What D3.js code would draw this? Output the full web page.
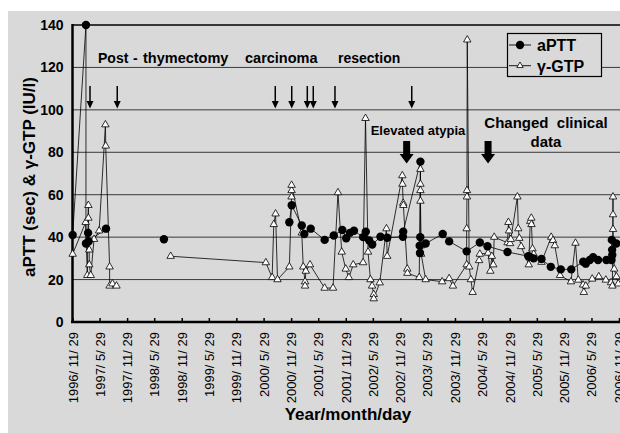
<!DOCTYPE html>
<html><head><meta charset="utf-8">
<script src="https://cdn.jsdelivr.net/npm/d3@7"></script>
<style>body{margin:0;background:#fff} svg{display:block;font-family:Arial,"Liberation Sans",sans-serif}</style>
</head><body><svg id="c" width="620" height="433"></svg>
<script>
// ---------- data ----------
const tickDates = ["1996-11-29","1997-05-29","1997-11-29","1998-05-29","1998-11-29","1999-05-29","1999-11-29","2000-05-29","2000-11-29","2001-05-29","2001-11-29","2002-05-29","2002-11-29","2003-05-29","2003-11-29","2004-05-29","2004-11-29","2005-05-29","2005-11-29","2006-05-29","2006-11-29"];
const tickLabels = ["1996/ 11/ 29","1997/ 5/ 29","1997/ 11/ 29","1998/ 5/ 29","1998/ 11/ 29","1999/ 5/ 29","1999/ 11/ 29","2000/ 5/ 29","2000/ 11/ 29","2001/ 5/ 29","2001/ 11/ 29","2002/ 5/ 29","2002/ 11/ 29","2003/ 5/ 29","2003/ 11/ 29","2004/ 5/ 29","2004/ 11/ 29","2005/ 5/ 29","2005/ 11/ 29","2006/ 5/ 29","2006/ 11/ 29"];
const yTicks = [0,20,40,60,80,100,120,140];

// null = blank cell (line is broken there)
const apttDates = ["1996-11-30","1997-02-27","1997-02-27","1997-03-13","1997-03-17","1997-07-11","1998-01-01","1998-08-02","1999-06-01","2000-11-17","2000-12-03","2001-02-08","2001-02-25","2001-04-09","2001-07-11","2001-09-10","2001-11-06","2001-12-02","2001-12-27","2002-01-23","2002-03-25","2002-04-12","2002-05-04","2002-05-25","2002-07-19","2002-09-02","2002-12-16","2002-12-18","2003-04-12","2003-04-11","2003-04-07","2003-04-09","2003-05-17","2003-09-08","2003-10-21","2004-02-15","2004-05-13","2004-07-03","2004-11-14","2005-04-02","2005-04-12","2005-05-08","2005-06-29","2005-08-30","2005-11-05","2006-01-14","2006-04-04","2006-04-21","2006-05-18","2006-06-09","2006-07-12","2006-09-06","2006-10-10","2006-10-12","2006-10-14","2006-10-15","2006-11-11"];
const apttValues = [41,140,37,42,38,44,null,39,null,47,55,45.5,41.5,44,38.7,40.8,43.4,39.5,42,43,40,42.6,38.5,36.5,40.2,39.7,40.2,42.6,75.6,40,36,32.5,37,41.5,38,33.3,37.5,35.7,33,31,30.8,30,29.7,26,24.8,24.8,28.4,27.5,29.2,30.5,29.2,29.2,29.2,38.7,34,31.6,37];

const ggtpDates = ["1996-11-30","1997-02-25","1997-03-08","1997-03-15","1997-03-15","1997-03-21","1997-03-21","1997-03-31","1997-04-22","1997-05-26","1997-07-07","1997-07-09","1997-08-04","1997-08-04","1997-08-23","1997-09-19","1998-03-01","1998-09-16","2000-06-13","2000-07-25","2000-08-05","2000-08-17","2000-08-30","2000-11-17","2000-12-02","2000-12-02","2000-12-02","2001-02-08","2001-02-18","2001-03-02","2001-03-02","2001-03-07","2001-04-04","2001-07-11","2001-09-05","2001-10-08","2001-11-02","2001-11-29","2001-12-20","2002-01-18","2002-03-25","2002-04-10","2002-04-27","2002-05-13","2002-05-24","2002-06-04","2002-06-04","2002-07-14","2002-08-28","2002-09-02","2002-12-12","2002-12-13","2002-12-18","2002-12-19","2003-01-14","2003-01-15","2003-04-04","2003-04-12","2003-04-12","2003-04-12","2003-04-12","2003-04-17","2003-04-17","2003-05-17","2003-09-04","2003-10-21","2003-11-15","2004-02-15","2004-02-15","2004-02-17","2004-02-17","2004-02-19","2004-03-03","2004-03-14","2004-03-26","2004-05-08","2004-05-13","2004-07-07","2004-07-22","2004-08-01","2004-08-11","2004-08-17","2004-11-14","2004-11-20","2004-11-24","2004-12-01","2004-12-06","2005-01-19","2005-01-25","2005-02-01","2005-02-13","2005-04-05","2005-04-15","2005-04-22","2005-04-23","2005-04-30","2005-05-08","2005-06-29","2005-09-02","2005-09-14","2005-09-26","2005-10-31","2006-01-12","2006-02-11","2006-03-02","2006-04-03","2006-04-08","2006-04-21","2006-06-03","2006-07-17","2006-09-02","2006-10-07","2006-10-16","2006-10-20","2006-10-20","2006-10-20","2006-10-28","2006-11-12","2006-11-24"];
const ggtpValues = [32,47,22,55,49,34,27,22,39,43,93,83,26,17,18,17,null,31,28,21,46,51,20,26,59,62,64.5,42,26,19,17,24,27,16,16,61,33,25,21,27,28,96,33,20,17,13,11,18.5,44,31,69,65,56,55,25,23,21,72,65,62,57,36,32,20,19,20.5,17,27,44,59,62,133,26,20,14,29,32,32.5,24,31,27,40,37.4,47,43,37,39,59,44,39.5,35.6,27,47.5,49,46,34.5,32,28.2,40,38.5,36,22,19,37.2,19.8,17.5,14,17,20.3,21.4,19.8,18.6,17,59,50.6,43.7,25,21.4,18];

const thinArrowDates = ["1997-03-26","1997-09-24","2000-08-15","2000-12-03","2001-03-17","2001-04-26","2001-09-18","2003-02-13"];
const thickArrowDates = ["2003-01-10","2004-07-07"];
const seriesNames = ["aPTT","γ-GTP"];

// ---------- drawing ----------
const parse = d3.timeParse("%Y-%m-%d");
const svg = d3.select("#c");
const BG = "#d9d9d9";
svg.append("rect").attr("x",8).attr("y",11).attr("width",612).attr("height",422).attr("fill",BG);

const x = d3.scaleTime().domain([parse("1996-11-29"), parse("2006-11-29")]).range([72.5, 619]);
const y = d3.scaleLinear().domain([0,140]).range([322, 25]);

// gridlines
svg.append("g").selectAll("line").data(yTicks.filter(v=>v>0)).join("line")
  .attr("x1",72.5).attr("x2",620).attr("y1",d=>y(d)).attr("y2",d=>y(d))
  .attr("stroke",d=>d===140?"#000":"#3a3a3a").attr("stroke-width",d=>d===140?1.6:1);

// y axis
const yAxis = d3.axisLeft(y).tickValues(yTicks).tickSize(0).tickPadding(9);
const gy = svg.append("g").attr("transform","translate(72.5,0)").call(yAxis);
gy.select(".domain").remove();
gy.selectAll("text").attr("font-size",14).attr("font-weight","bold").attr("fill","#000").attr("font-family","Arial,'Liberation Sans',sans-serif");

// x axis
const xAxis = d3.axisBottom(x).tickValues(tickDates.map(parse)).tickSize(-4).tickFormat((d,i)=>tickLabels[i]);
const gx = svg.append("g").attr("transform","translate(0,322)").call(xAxis);
gx.select(".domain").remove();
gx.selectAll(".tick line").attr("stroke","#000").attr("stroke-width",1.5);
gx.selectAll("text").attr("font-size",13).attr("fill","#000").attr("font-family","Arial,'Liberation Sans',sans-serif")
  .attr("text-anchor","end").attr("dy",null).attr("y",0).attr("x",0)
  .attr("transform","translate(4.5,10) rotate(-90)").style("white-space","pre");

// axis lines
svg.append("line").attr("x1",72.5).attr("x2",72.5).attr("y1",24).attr("y2",323).attr("stroke","#000").attr("stroke-width",2.5);
svg.append("line").attr("x1",71).attr("x2",620).attr("y1",322).attr("y2",322).attr("stroke","#000").attr("stroke-width",2.5);

// series
const aptt = apttDates.map((d,i)=>({d:parse(d),v:apttValues[i]}));
const ggtp = ggtpDates.map((d,i)=>({d:parse(d),v:ggtpValues[i]}));
const line = d3.line().defined(p=>p.v!=null).x(p=>x(p.d)).y(p=>y(p.v));
svg.append("clipPath").attr("id","cl").append("rect").attr("x",60).attr("y",0).attr("width",560).attr("height",330);
const plot = svg.append("g").attr("clip-path","url(#cl)");
plot.append("path").datum(ggtp).attr("d",line).attr("fill","none").attr("stroke","#000").attr("stroke-width",0.8);
plot.append("path").datum(aptt).attr("d",line).attr("fill","none").attr("stroke","#000").attr("stroke-width",0.8);
const tri = d3.symbol().type(d3.symbolTriangle).size(24);
plot.append("g").selectAll("path").data(ggtp.filter(p=>p.v!=null)).join("path")
  .attr("d",tri).attr("transform",p=>`translate(${x(p.d)},${y(p.v)})`)
  .attr("fill","#fff").attr("stroke","#000").attr("stroke-width",0.8);
plot.append("g").selectAll("circle").data(aptt.filter(p=>p.v!=null)).join("circle")
  .attr("cx",p=>x(p.d)).attr("cy",p=>y(p.v)).attr("r",4.2).attr("fill","#000");

// annotation arrows
svg.append("g").selectAll("g").data(thinArrowDates.map(parse)).join("g").each(function(d){
  const g = d3.select(this), cx = x(d);
  g.append("line").attr("x1",cx).attr("x2",cx).attr("y1",86).attr("y2",102).attr("stroke","#000").attr("stroke-width",1.5);
  g.append("path").attr("d",`M${cx-3.5},101 L${cx+3.5},101 L${cx},108.5 Z`).attr("fill","#000");
});
svg.append("g").selectAll("path").data(thickArrowDates.map(parse)).join("path")
  .attr("d",d=>{const c=x(d);return `M${c-3.5},141 L${c+3.5},141 L${c+3.5},154 L${c+7},154 L${c},163.5 L${c-7},154 L${c-3.5},154 Z`;})
  .attr("fill","#000");

// annotation texts
const bold = (t,xx,yy,fs,anchor)=>svg.append("text").attr("x",xx).attr("y",yy).attr("font-size",fs).attr("font-weight","bold")
  .attr("text-anchor",anchor||"start").attr("fill","#000").text(t);
bold("Post",98,63,14); bold("-",133,63,14); bold("thymectomy",143,63,14.5); bold("carcinoma",245,63,14.5); bold("resection",338,63,14);
bold("Elevated atypia",418,135,13,"middle");
bold("Changed  clinical",546,128,15,"middle").style("white-space","pre");
bold("data",546,147,15,"middle");

// legend
const lg = svg.append("g");
lg.append("rect").attr("x",507.5).attr("y",33.5).attr("width",94).attr("height",43).attr("fill",BG).attr("stroke","#000").attr("stroke-width",1.2);
[45,65.7].forEach((yy,i)=>{
  lg.append("line").attr("x1",509).attr("x2",531).attr("y1",yy).attr("y2",yy).attr("stroke","#000").attr("stroke-width",0.9);
  if(i===0) lg.append("circle").attr("cx",520).attr("cy",yy).attr("r",4.2).attr("fill","#000");
  else lg.append("path").attr("d",d3.symbol().type(d3.symbolTriangle).size(18)).attr("transform",`translate(520,${yy})`).attr("fill","#fff").attr("stroke","#000").attr("stroke-width",0.8);
  lg.append("text").attr("x",537).attr("y",yy+5.8).attr("font-size",16).attr("font-weight","bold").text(seriesNames[i]);
});

// axis titles
svg.append("text").attr("transform","translate(35,177) rotate(-90)").attr("text-anchor","middle")
  .attr("font-size",17).attr("font-weight","bold").text("aPTT (sec) & γ-GTP (IU/l)");
svg.append("text").attr("x",348).attr("y",420).attr("text-anchor","middle").attr("font-size",17).attr("font-weight","bold").text("Year/month/day");
</script></body></html>
